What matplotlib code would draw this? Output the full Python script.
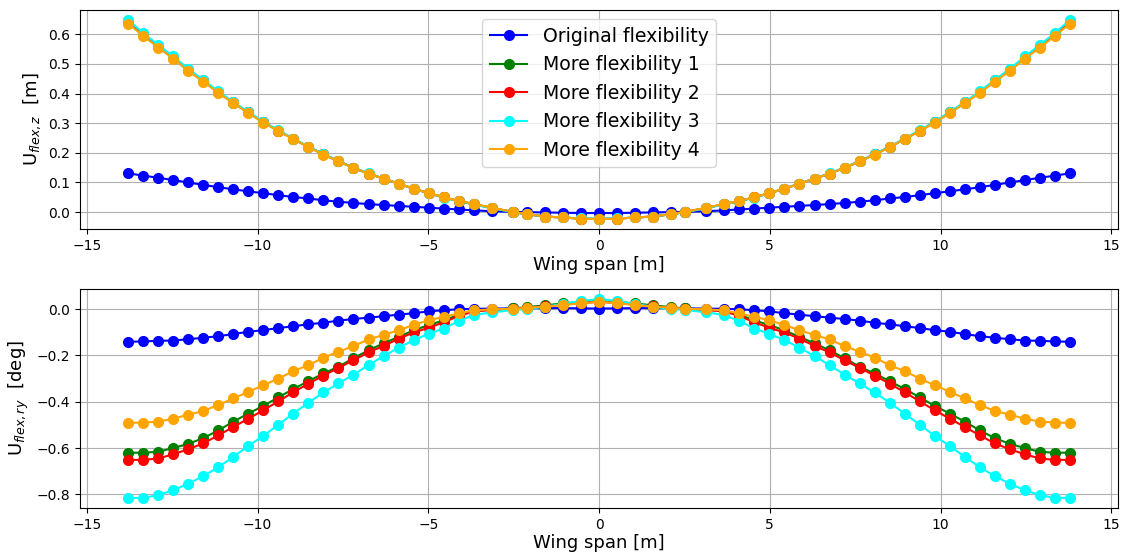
import matplotlib
matplotlib.use("Agg")
import matplotlib.pyplot as plt
from matplotlib.ticker import MultipleLocator

# spanwise node positions [m]
span = [-13.79, -13.35, -12.91, -12.47, -12.03, -11.59, -11.15, -10.71, -10.27, -9.83,
        -9.39, -8.95, -8.51, -8.07, -7.63, -7.19, -6.75, -6.31, -5.87, -5.43,
        -4.99, -4.55, -4.11, -3.67, -3.14, -2.51, -2.11, -1.58, -1.06, -0.53,
        0.0,
        0.53, 1.06, 1.58, 2.11, 2.51, 3.14, 3.67, 4.11, 4.55, 4.99,
        5.43, 5.87, 6.31, 6.75, 7.19, 7.63, 8.07, 8.51, 8.95, 9.39,
        9.83, 10.27, 10.71, 11.15, 11.59, 12.03, 12.47, 12.91, 13.35, 13.79]

# vertical flexible displacement [m]
uz_orig = [0.131, 0.123, 0.116, 0.108, 0.100, 0.092, 0.084, 0.077, 0.070, 0.064,
           0.057, 0.051, 0.046, 0.040, 0.035, 0.031, 0.027, 0.024, 0.021, 0.018,
           0.015, 0.012, 0.009, 0.006, 0.003, 0.001, 0.000, -0.001, -0.002, -0.003,
           -0.003,
           -0.003, -0.002, -0.001, 0.000, 0.001, 0.003, 0.006, 0.009, 0.012, 0.015,
           0.018, 0.021, 0.024, 0.027, 0.031, 0.035, 0.040, 0.046, 0.051, 0.057,
           0.064, 0.070, 0.077, 0.084, 0.092, 0.100, 0.108, 0.116, 0.123, 0.131]
uz_more1 = [0.642, 0.599, 0.559, 0.521, 0.479, 0.443, 0.404, 0.369, 0.336, 0.303,
            0.274, 0.247, 0.220, 0.195, 0.171, 0.149, 0.130, 0.113, 0.096, 0.079,
            0.064, 0.050, 0.037, 0.027, 0.014, 0.000, -0.007, -0.015, -0.018, -0.022,
            -0.023,
            -0.022, -0.018, -0.015, -0.007, 0.000, 0.014, 0.027, 0.037, 0.050, 0.064,
            0.079, 0.096, 0.113, 0.130, 0.149, 0.171, 0.195, 0.220, 0.247, 0.274,
            0.303, 0.336, 0.369, 0.404, 0.443, 0.479, 0.521, 0.559, 0.599, 0.642]
uz_more2 = [0.644, 0.601, 0.561, 0.522, 0.480, 0.444, 0.405, 0.370, 0.336, 0.304,
            0.275, 0.247, 0.220, 0.195, 0.172, 0.150, 0.130, 0.113, 0.096, 0.079,
            0.064, 0.050, 0.037, 0.027, 0.014, 0.000, -0.007, -0.015, -0.018, -0.022,
            -0.023,
            -0.022, -0.018, -0.015, -0.007, 0.000, 0.014, 0.027, 0.037, 0.050, 0.064,
            0.079, 0.096, 0.113, 0.130, 0.150, 0.172, 0.195, 0.220, 0.247, 0.275,
            0.304, 0.336, 0.370, 0.405, 0.444, 0.480, 0.522, 0.561, 0.601, 0.644]
uz_more3 = [0.648, 0.604, 0.564, 0.525, 0.483, 0.446, 0.407, 0.371, 0.338, 0.305,
            0.276, 0.248, 0.221, 0.196, 0.172, 0.150, 0.131, 0.113, 0.096, 0.079,
            0.064, 0.049, 0.037, 0.026, 0.013, 0.000, -0.007, -0.015, -0.018, -0.021,
            -0.022,
            -0.021, -0.018, -0.015, -0.007, 0.000, 0.013, 0.026, 0.037, 0.049, 0.064,
            0.079, 0.096, 0.113, 0.131, 0.150, 0.172, 0.196, 0.221, 0.248, 0.276,
            0.305, 0.338, 0.371, 0.407, 0.446, 0.483, 0.525, 0.564, 0.604, 0.648]
uz_more4 = [0.636, 0.594, 0.555, 0.517, 0.476, 0.440, 0.402, 0.367, 0.334, 0.302,
            0.273, 0.246, 0.219, 0.194, 0.171, 0.149, 0.130, 0.113, 0.096, 0.079,
            0.065, 0.050, 0.038, 0.028, 0.015, 0.001, -0.006, -0.015, -0.018, -0.022,
            -0.024,
            -0.022, -0.018, -0.015, -0.006, 0.001, 0.015, 0.028, 0.038, 0.050, 0.065,
            0.079, 0.096, 0.113, 0.130, 0.149, 0.171, 0.194, 0.219, 0.246, 0.273,
            0.302, 0.334, 0.367, 0.402, 0.440, 0.476, 0.517, 0.555, 0.594, 0.636]

# flexible twist rotation [deg]
ury_orig = [-0.141, -0.140, -0.137, -0.136, -0.130, -0.124, -0.117, -0.108, -0.098, -0.091,
            -0.082, -0.074, -0.066, -0.059, -0.050, -0.043, -0.037, -0.031, -0.024, -0.018,
            -0.010, -0.005, -0.001, 0.001, 0.002, 0.003, 0.004, 0.004, 0.004, 0.003,
            0.002,
            0.003, 0.004, 0.004, 0.004, 0.003, 0.002, 0.001, -0.001, -0.005, -0.010,
            -0.018, -0.024, -0.031, -0.037, -0.043, -0.050, -0.059, -0.066, -0.074, -0.082,
            -0.091, -0.098, -0.108, -0.117, -0.124, -0.130, -0.136, -0.137, -0.140, -0.141]
ury_more1 = [-0.620, -0.620, -0.616, -0.600, -0.582, -0.557, -0.524, -0.486, -0.451, -0.418,
             -0.381, -0.345, -0.311, -0.278, -0.249, -0.212, -0.178, -0.148, -0.120, -0.092,
             -0.069, -0.049, -0.025, -0.008, -0.003, 0.003, 0.008, 0.016, 0.024, 0.031,
             0.036,
             0.031, 0.024, 0.016, 0.008, 0.003, -0.003, -0.008, -0.025, -0.049, -0.069,
             -0.092, -0.120, -0.148, -0.178, -0.212, -0.249, -0.278, -0.311, -0.345, -0.381,
             -0.418, -0.451, -0.486, -0.524, -0.557, -0.582, -0.600, -0.616, -0.620, -0.620]
ury_more2 = [-0.651, -0.651, -0.645, -0.627, -0.605, -0.580, -0.545, -0.509, -0.473, -0.437,
             -0.398, -0.359, -0.322, -0.287, -0.254, -0.221, -0.187, -0.159, -0.128, -0.101,
             -0.081, -0.057, -0.030, -0.010, -0.004, 0.001, 0.006, 0.012, 0.019, 0.026,
             0.031,
             0.026, 0.019, 0.012, 0.006, 0.001, -0.004, -0.010, -0.030, -0.057, -0.081,
             -0.101, -0.128, -0.159, -0.187, -0.221, -0.254, -0.287, -0.322, -0.359, -0.398,
             -0.437, -0.473, -0.509, -0.545, -0.580, -0.605, -0.627, -0.645, -0.651, -0.651]
ury_more3 = [-0.815, -0.815, -0.803, -0.782, -0.754, -0.721, -0.683, -0.638, -0.591, -0.547,
             -0.499, -0.451, -0.404, -0.360, -0.321, -0.283, -0.242, -0.203, -0.167, -0.134,
             -0.107, -0.084, -0.052, -0.026, -0.014, -0.004, 0.000, 0.010, 0.022, 0.035,
             0.043,
             0.035, 0.022, 0.010, 0.000, -0.004, -0.014, -0.026, -0.052, -0.084, -0.107,
             -0.134, -0.167, -0.203, -0.242, -0.283, -0.321, -0.360, -0.404, -0.451, -0.499,
             -0.547, -0.591, -0.638, -0.683, -0.721, -0.754, -0.782, -0.803, -0.815, -0.815]
ury_more4 = [-0.491, -0.490, -0.486, -0.473, -0.456, -0.440, -0.414, -0.386, -0.357, -0.329,
             -0.300, -0.268, -0.242, -0.210, -0.184, -0.160, -0.131, -0.112, -0.091, -0.069,
             -0.048, -0.034, -0.019, -0.006, -0.001, 0.001, 0.006, 0.010, 0.017, 0.025,
             0.032,
             0.025, 0.017, 0.010, 0.006, 0.001, -0.001, -0.006, -0.019, -0.034, -0.048,
             -0.069, -0.091, -0.112, -0.131, -0.160, -0.184, -0.210, -0.242, -0.268, -0.300,
             -0.329, -0.357, -0.386, -0.414, -0.440, -0.456, -0.473, -0.486, -0.490, -0.491]

labels = ["Original flexibility", "More flexibility 1", "More flexibility 2",
          "More flexibility 3", "More flexibility 4"]
colors = ["blue", "green", "red", "cyan", "orange"]

fig = plt.figure(figsize=(11.26, 5.55), dpi=100)
ax1 = fig.add_axes([0.071, 0.587, 0.922, 0.395])
ax2 = fig.add_axes([0.071, 0.085, 0.922, 0.394])

for y, lab, c in zip([uz_orig, uz_more1, uz_more2, uz_more3, uz_more4], labels, colors):
    ax1.plot(span, y, "o-", color=c, label=lab, ms=7, lw=1.5)
for y, lab, c in zip([ury_orig, ury_more1, ury_more2, ury_more3, ury_more4], labels, colors):
    ax2.plot(span, y, "o-", color=c, label=lab, ms=7, lw=1.5)

ax1.set_ylabel(r"U$_{flex,z}$  [m]", fontsize=13)
ax2.set_ylabel(r"U$_{flex,ry}$  [deg]", fontsize=13)
ax1.yaxis.set_major_locator(MultipleLocator(0.1))
ax2.yaxis.set_major_locator(MultipleLocator(0.2))
for ax in (ax1, ax2):
    ax.set_xlabel("Wing span [m]", fontsize=13, labelpad=2)
    ax.set_xlim(-15.2, 15.2)
    ax.grid(True)
ax1.legend(loc="upper center", fontsize=13.6)

fig.savefig("out.png", dpi=100)
